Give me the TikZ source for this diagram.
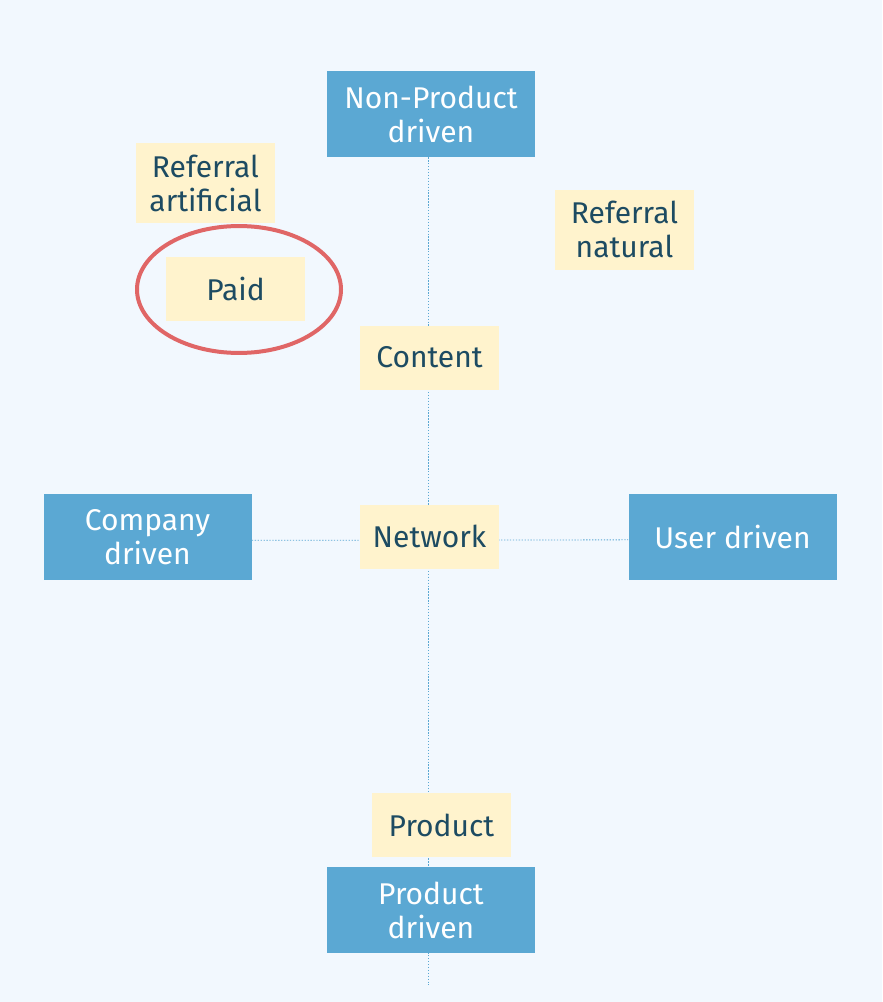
\documentclass[tikz,border=0pt]{standalone}
\usepackage{fontspec}
\setmainfont{Fira Sans}
\usetikzlibrary{positioning}

\definecolor{paper}{HTML}{F2F8FE}
\definecolor{axisblue}{HTML}{5BA8D3}
\definecolor{notepad}{HTML}{FFF3CD}
\definecolor{inkteal}{HTML}{1D4B62}
\definecolor{ringred}{HTML}{E06666}

\pgfdeclarelayer{paperlayer}
\pgfdeclarelayer{axislayer}
\pgfsetlayers{paperlayer,axislayer,main}

\tikzset{
  pole/.style={fill=axisblue, text=white, minimum width=156pt, minimum height=64.5pt, align=center, inner sep=0pt, font=\fontsize{22.5}{25.5}\selectfont},
  note/.style={fill=notepad, text=inkteal, minimum width=104.25pt, minimum height=48pt, align=center, inner sep=0pt, font=\fontsize{22.5}{25.5}\selectfont},
  axisline/.style={axisblue, line width=0.6pt, dash pattern=on 1pt off 1.2pt},
  ring/.style={ringred, line width=3pt}
}

\begin{document}
\begin{tikzpicture}[x=0.75pt, y=-0.75pt]
\useasboundingbox (0,0) rectangle (882,1002);
\begin{pgfonlayer}{paperlayer}
\fill[paper] (0,0) rectangle (882,1002);
\end{pgfonlayer}
% Poles:
\node[pole] (nonprod) at (431,114) {Non-Product\\driven};
\node[pole] (company) at (147.5,537) {Company\\driven};
\node[pole] (user) at (732.5,536.5) {User driven};
\node[pole] (prod) at (431,910) {Product\\driven};
% Channels:
\node[note, minimum height=60pt] (refart) at (205.5,183) {Referral\\artificial};
\node[note] (paid) at (235.5,289) {Paid};
\node[note, minimum height=60pt] (refnat) at (624.5,229.5) {Referral\\natural};
\node[note] (content) at (429.5,357.5) {Content};
\node[note] (network) at (429.5,536.5) {Network};
\node[note] (product) at (441.5,825) {Product};
\coordinate (axisend) at (428,985);
% Axes:
\begin{pgfonlayer}{axislayer}
\draw[axisline] (nonprod.south -| axisend) -- (axisend);
\draw[axisline] ([yshift=-2.5pt]company.east) -- ([yshift=-2.5pt]user.west);
\end{pgfonlayer}
\draw[ring] (paid) ++(3.5,0.5) ellipse [x radius=76.5pt, y radius=47.6pt];
\end{tikzpicture}
\end{document}
